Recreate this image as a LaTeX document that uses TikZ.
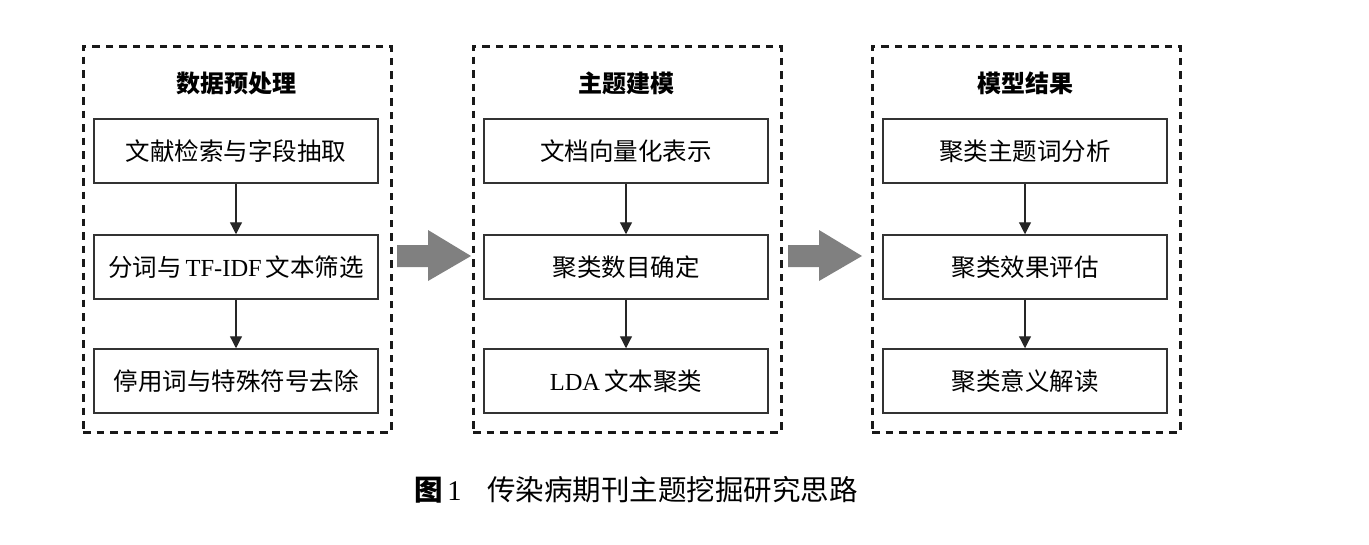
\documentclass[tikz,border=0pt]{standalone}
\usepackage{fontspec}
\setmainfont{Liberation Serif}
\newfontfamily\cj{Noto Sans CJK SC}
\usetikzlibrary{arrows.meta}
\tikzset{
  frame/.style={draw=black!90, line width=3pt, dash pattern=on 7.5pt off 6pt, minimum width=308pt, minimum height=386pt, inner sep=0},
  stepbox/.style={draw=black!80, line width=1.5pt, minimum width=284pt, minimum height=64pt, inner sep=0, font=\cj\fontsize{24.5}{28}\selectfont},
  ttl/.style={font=\cj\bfseries\fontsize{24}{28}\selectfont, inner sep=0},
  conn/.style={-{Triangle[length=12pt,width=12pt]}, line width=1.2pt, draw=black!85, fill=black!85},
  bigarrow/.style={fill=black!50, draw=none},
  capt/.style={anchor=west, inner sep=0, font=\fontsize{28.5}{32}\selectfont}
}
\begin{document}
\begin{tikzpicture}[x=1pt,y=-1pt]
\useasboundingbox (0,0) rectangle (1369,544);
\fill[white] (0,0) rectangle (1369,544);
% frames
\node[frame] (f1) at (237,239) {};
\node[frame] (f2) at (627,239) {};
\node[frame] (f3) at (1026,239) {};
% titles
\node[ttl] (t1) at (236,83) {数据预处理};
\node[ttl] (t2) at (626,83) {主题建模};
\node[ttl] (t3) at (1025,83) {模型结果};
% column 1
\node[stepbox] (a1) at (236,151) {文献检索与字段抽取};
\node[stepbox] (a2) at (236,267) {分词与\,{\fontspec{Liberation Serif}TF-IDF}\,文本筛选};
\node[stepbox] (a3) at (236,381) {停用词与特殊符号去除};
% column 2
\node[stepbox] (b1) at (626,151) {文档向量化表示};
\node[stepbox] (b2) at (626,267) {聚类数目确定};
\node[stepbox] (b3) at (626,381) {{\fontspec{Liberation Serif}LDA}\,文本聚类};
% column 3
\node[stepbox] (c1) at (1025,151) {聚类主题词分析};
\node[stepbox] (c2) at (1025,267) {聚类效果评估};
\node[stepbox] (c3) at (1025,381) {聚类意义解读};
% connectors
\draw[conn] (a1) -- (a2);
\draw[conn] (a2) -- (a3);
\draw[conn] (b1) -- (b2);
\draw[conn] (b2) -- (b3);
\draw[conn] (c1) -- (c2);
\draw[conn] (c2) -- (c3);
% big arrows
\fill[bigarrow] (397,245) -- (428,245) -- (428,230) -- (471,256) -- (428,281) -- (428,267) -- (397,267) -- cycle;
\fill[bigarrow] (788,245) -- (819,245) -- (819,230) -- (862,256) -- (819,281) -- (819,267) -- (788,267) -- cycle;
% caption
\node[capt] (cap1) at (414,490) {{\cj\bfseries 图}\,1};
\node[capt] (cap2) at (487,490) {\cj 传染病期刊主题挖掘研究思路};
\end{tikzpicture}
\end{document}
